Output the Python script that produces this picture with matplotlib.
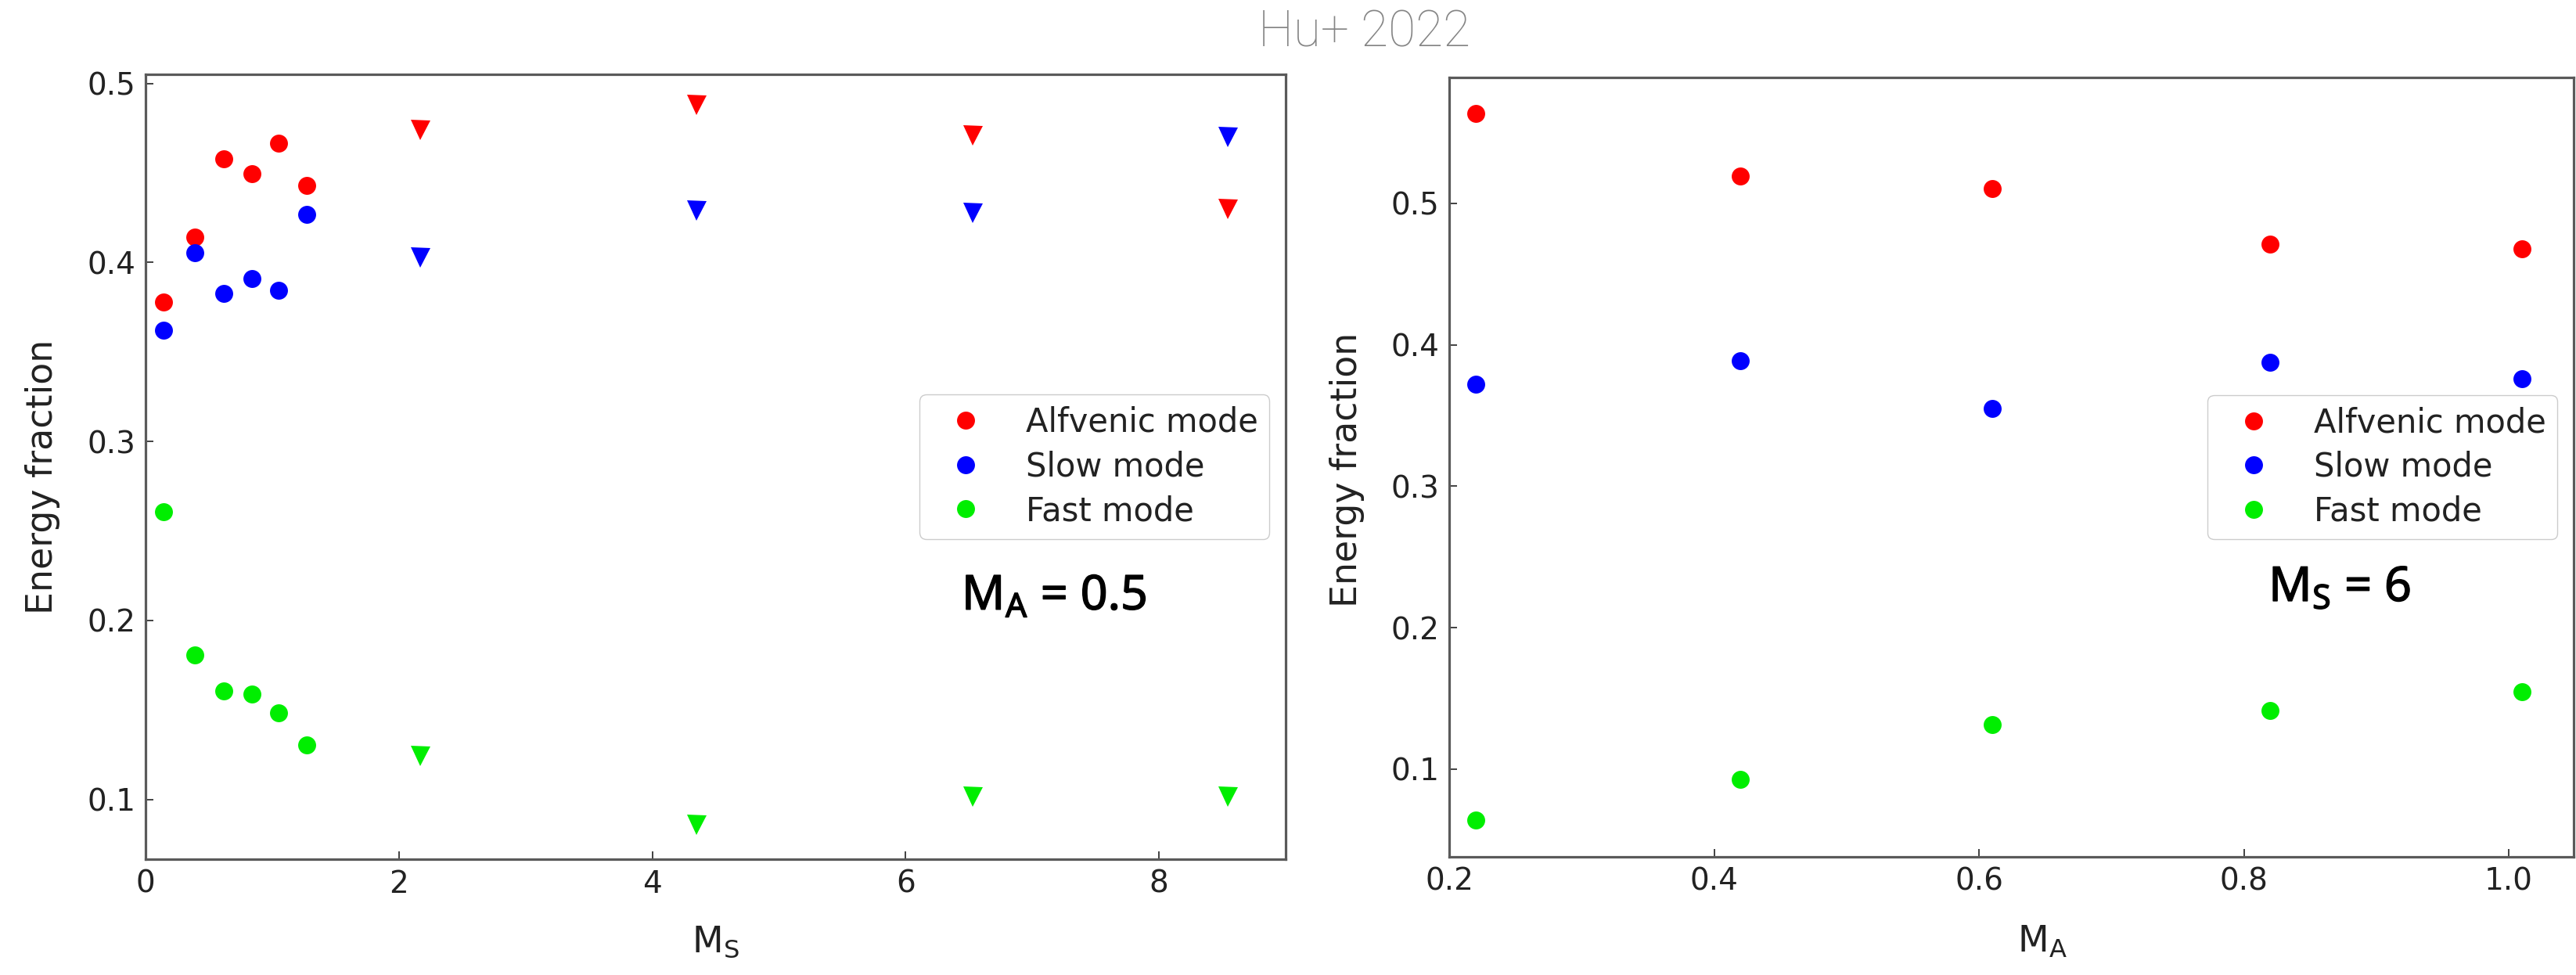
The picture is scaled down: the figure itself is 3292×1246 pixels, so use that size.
import matplotlib
matplotlib.use("Agg")
import matplotlib.pyplot as plt
import matplotlib.patheffects as pe
from matplotlib.ticker import FormatStrFormatter, FixedLocator

# ---- data -------------------------------------------------------------
# Left panel: M_A = 0.5, energy fraction versus sonic Mach number M_S
ms_sub = [0.14, 0.39, 0.62, 0.84, 1.05, 1.27]      # drawn as circles
ms_sup = [2.17, 4.35, 6.53, 8.54]                  # drawn as triangles
alf_ms_sub = [0.378, 0.414, 0.458, 0.4495, 0.4665, 0.443]
alf_ms_sup = [0.474, 0.488, 0.471, 0.430]
slow_ms_sub = [0.362, 0.4055, 0.3825, 0.391, 0.3845, 0.427]
slow_ms_sup = [0.403, 0.429, 0.4275, 0.470]
fast_ms_sub = [0.2605, 0.1805, 0.1605, 0.159, 0.1485, 0.1305]
fast_ms_sup = [0.1245, 0.086, 0.1015, 0.1015]

# Right panel: M_S = 6, energy fraction versus Alfven Mach number M_A
ma_vals = [0.22, 0.42, 0.61, 0.82, 1.01]
alf_ma = [0.5635, 0.5193, 0.5107, 0.4709, 0.468]
slow_ma = [0.3719, 0.3885, 0.3552, 0.3876, 0.3759]
fast_ma = [0.064, 0.0928, 0.1315, 0.1415, 0.1547]

mode_labels = ["Alfvenic mode", "Slow mode", "Fast mode"]
mode_colors = ["#ff0000", "#0000ff", "#00ee00"]

left_xticks = [0, 2, 4, 6, 8]
left_yticks = [0.1, 0.2, 0.3, 0.4, 0.5]
right_xticks = [0.2, 0.4, 0.6, 0.8, 1.0]
right_yticks = [0.1, 0.2, 0.3, 0.4, 0.5]

# ---- styling ----------------------------------------------------------
plt.rcParams["font.family"] = ["DejaVu Sans"]
plt.rcParams["mathtext.fontset"] = "custom"
plt.rcParams["mathtext.rm"] = "Noto Sans"
plt.rcParams["mathtext.it"] = "Noto Sans"

TXT = "#222222"
SPINE = "#5a5a5a"
MS_CIRC = 16.5
MS_TRI = 18.0

fig = plt.figure(figsize=(32.92, 12.46), dpi=100)
ax1 = fig.add_axes([0.05650, 0.11878, 0.44259, 0.80498])
ax2 = fig.add_axes([0.56258, 0.12119, 0.43651, 0.79936])


def style_axes(ax):
    for sp in ax.spines.values():
        sp.set_color(SPINE)
        sp.set_linewidth(2.3)
    ax.tick_params(direction="in", length=7, width=1.3, color="#333333",
                   labelcolor=TXT, labelsize=28, top=False, right=False,
                   pad=9)


def draw_series(ax, xs, ys, marker, ms, color, label=None):
    ax.plot(xs, ys, linestyle="none", marker=marker, markersize=ms,
            markerfacecolor=color, markeredgecolor=color, markeredgewidth=0,
            label=label)


# left panel
for lab, col, ysub, ysup in zip(mode_labels, mode_colors,
                                [alf_ms_sub, slow_ms_sub, fast_ms_sub],
                                [alf_ms_sup, slow_ms_sup, fast_ms_sup]):
    draw_series(ax1, ms_sub, ysub, "o", MS_CIRC, col, lab)
    draw_series(ax1, ms_sup, ysup, "v", MS_TRI, col)
ax1.set_xlim(0, 9.0)
ax1.set_ylim(0.0666, 0.5051)
ax1.xaxis.set_major_locator(FixedLocator(left_xticks))
ax1.yaxis.set_major_locator(FixedLocator(left_yticks))
ax1.xaxis.set_major_formatter(FormatStrFormatter("%d"))
ax1.yaxis.set_major_formatter(FormatStrFormatter("%.1f"))

# right panel
for lab, col, ys in zip(mode_labels, mode_colors, [alf_ma, slow_ma, fast_ma]):
    draw_series(ax2, ma_vals, ys, "o", MS_CIRC, col, lab)
ax2.set_xlim(0.2, 1.049)
ax2.set_ylim(0.038, 0.589)
ax2.xaxis.set_major_locator(FixedLocator(right_xticks))
ax2.yaxis.set_major_locator(FixedLocator(right_yticks))
ax2.xaxis.set_major_formatter(FormatStrFormatter("%.1f"))
ax2.yaxis.set_major_formatter(FormatStrFormatter("%.1f"))

label_font = dict(family="DejaVu Sans", size=33, color=TXT)
W, H = 3292.0, 1246.0

for ax, xl, xlab_px, ylab_px, ylab_py in [
        (ax1, r"$\mathrm{M_S}$", 914, 55, 609),
        (ax2, r"$\mathrm{M_A}$", 2610, 1722, 600)]:
    style_axes(ax)
    fig.text(xlab_px / W, 1 - 1216 / H, xl, ha="center", va="baseline",
             math_fontfamily="dejavusans", **label_font)
    fig.text(ylab_px / W, 1 - ylab_py / H, "Energy fraction", ha="center",
             va="center", rotation=90, **label_font)
    leg = ax.legend(loc="center right", prop=dict(family="DejaVu Sans", size=30),
                    frameon=True, fancybox=True, framealpha=1.0,
                    edgecolor="#cccccc", handlelength=2.1, handletextpad=0.8,
                    labelspacing=0.35, borderpad=0.35, borderaxespad=0.5,
                    numpoints=1)
    for t in leg.get_texts():
        t.set_color(TXT)

# parameter annotations, drawn a little heavier than the regular face
ann_font = dict(family="Noto Sans", size=44, color="black")
heavy = [pe.withStroke(linewidth=1.0, foreground="black")]
ax1.text(0.797, 0.318, r"$\mathrm{M_A}$ = 0.5", transform=ax1.transAxes,
         ha="center", va="baseline", path_effects=heavy, **ann_font)
ax2.text(0.792, 0.328, r"$\mathrm{M_S}$ = 6", transform=ax2.transAxes,
         ha="center", va="baseline", path_effects=heavy, **ann_font)

fig.text(1744 / W, 1 - 60 / H, "Hu+ 2022", ha="center", va="baseline",
         family="Roboto", weight="light", size=46, color="#858585")

fig.savefig("out.png", dpi=100, facecolor="white")
